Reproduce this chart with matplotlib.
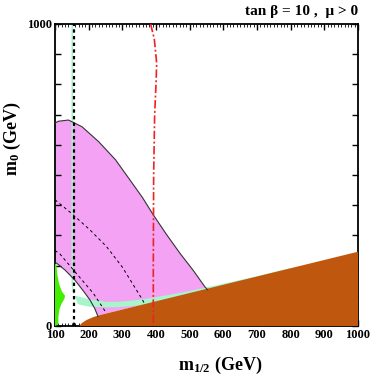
import matplotlib
matplotlib.use("Agg")
import matplotlib.pyplot as plt
from matplotlib.ticker import MultipleLocator, FuncFormatter
import numpy as np

# excluded by b -> s gamma / g-2 (pink), upper edge
pink_top_x = [100, 110, 140, 180, 230, 280, 323, 360, 392, 430, 471, 510, 545, 553]
pink_top_y = [672, 678, 682, 660, 610, 550, 483, 425, 368, 305, 241, 185, 130, 120]
# lower-left edge of the pink region
pink_left_x = [100, 105, 130, 159, 185, 204, 218, 228]
pink_left_y = [210, 208, 185, 152, 115, 86, 58, 31]

# charged LSP region (brown), upper edge
brown_x = [172, 180, 194, 215, 240, 1000]
brown_y = [0, 10, 20, 30, 38, 246]

# relic density band (teal)
teal_up_x = [149, 149, 153, 160, 180, 204, 253, 283, 330, 382, 450, 500, 600, 700, 800]
teal_up_y = [1000, 140, 110, 100, 95, 88, 80, 80, 84, 92, 105, 116, 140, 165, 192]
teal_lo_x = [154, 154, 160, 168, 200, 253, 283, 330, 382, 450, 500, 600, 700, 800]
teal_lo_y = [1000, 130, 95, 72, 64, 62, 62, 66, 73, 91, 106, 134, 161, 188]

# LEP excluded sliver (green)
green_x = [100, 104, 107, 112, 120, 130, 128, 120, 113, 110, 110, 100]
green_y = [205, 205, 170, 140, 115, 100, 90, 75, 55, 30, 5, 0]

# Higgs mass contours (thin dashed)
h1_x = [100, 150, 204, 253, 300, 357, 368]
h1_y = [418, 372, 318, 263, 195, 92, 70]
h2_x = [100, 115, 159, 214, 253]
h2_y = [250, 238, 180, 108, 42]

# chargino limit (dotted) and Higgs limit (red dash-dot)
chargino_x = 156
red_x = [384, 395, 402, 400, 396, 393, 392, 392]
red_y = [1000, 950, 870, 800, 700, 500, 200, 0]

plt.rcParams['font.family'] = ['Liberation Serif', 'DejaVu Serif']
plt.rcParams['font.weight'] = 'bold'
plt.rcParams['mathtext.fontset'] = 'custom'
plt.rcParams['mathtext.rm'] = 'Liberation Serif:bold'
plt.rcParams['mathtext.bf'] = 'Liberation Serif:bold'
plt.rcParams['mathtext.it'] = 'Liberation Serif:bold'

fig = plt.figure(figsize=(3.7, 3.82), dpi=100)
ax = fig.add_axes([55 / 370, 56 / 382, 303 / 370, 302 / 382])

pink = '#f4a3f4'
brown = '#bf580e'
teal = '#a8f5cc'
green = '#44ee00'

# pink region
bx = np.linspace(553, 228, 20)
px = pink_top_x + list(bx) + pink_left_x[::-1]
py = pink_top_y + list(np.interp(bx, brown_x, brown_y)) + pink_left_y[::-1]
ax.fill(px, py, color=pink, lw=0, zorder=1)
ax.plot(pink_top_x, pink_top_y, color='#333333', lw=0.8, zorder=5)
ax.plot(pink_left_x, pink_left_y, color='#333333', lw=0.8, zorder=5)

# teal band
ax.fill(teal_up_x + teal_lo_x[::-1], teal_up_y + teal_lo_y[::-1], color=teal, lw=0, zorder=2)
ax.plot([101, 101], [1000, 205], color=teal, lw=1.5, zorder=2)

# brown region
ax.fill(brown_x + [1000], brown_y + [0], color=brown, lw=0, zorder=3)

# green
ax.fill(green_x, green_y, color=green, lw=0, zorder=3)

# contours
ax.plot(h1_x, h1_y, color='black', lw=0.7, dashes=(3, 3), zorder=6)
ax.plot(h2_x, h2_y, color='black', lw=0.7, dashes=(3, 3), zorder=6)
ax.plot([chargino_x, chargino_x], [0, 1000], color='black', lw=1.6, dashes=(1.5, 1.5), zorder=6)
ax.plot(red_x, red_y, color='#ee2222', lw=1.2, dashes=(5, 1.5, 1.2, 1.5), zorder=6)

ax.set_xlim(100, 1000)
ax.set_ylim(0, 1000)

ax.xaxis.set_major_locator(MultipleLocator(100))
ax.xaxis.set_minor_locator(MultipleLocator(10))
ax.yaxis.set_major_locator(MultipleLocator(100))
ax.yaxis.set_major_formatter(FuncFormatter(lambda v, p: f"{int(v)}" if v in (0, 1000) else ""))
ax.tick_params(which='both', direction='in', top=True, right=True, labelsize=9, pad=2)
ax.tick_params(which='major', length=4, width=1)
ax.tick_params(which='minor', length=2, width=0.6)
for lab in ax.get_xticklabels() + ax.get_yticklabels():
    lab.set_fontweight('bold')
for s in ax.spines.values():
    s.set_linewidth(1.3)

ax.set_xlabel(r'm$_{1/2}$ (GeV)', fontsize=13, fontweight='bold')
ax.set_ylabel(r'm$_0$ (GeV)', fontsize=13, fontweight='bold')
ax.xaxis.set_label_coords(0.545, -0.095)
ax.yaxis.set_label_coords(-0.105, 0.62)
ax.text(1.0, 1.02, 'tan \u03b2 = 10 ,  \u03bc > 0', transform=ax.transAxes,
        ha='right', va='bottom', fontsize=11, fontweight='bold')

fig.savefig('out.png', dpi=100)
